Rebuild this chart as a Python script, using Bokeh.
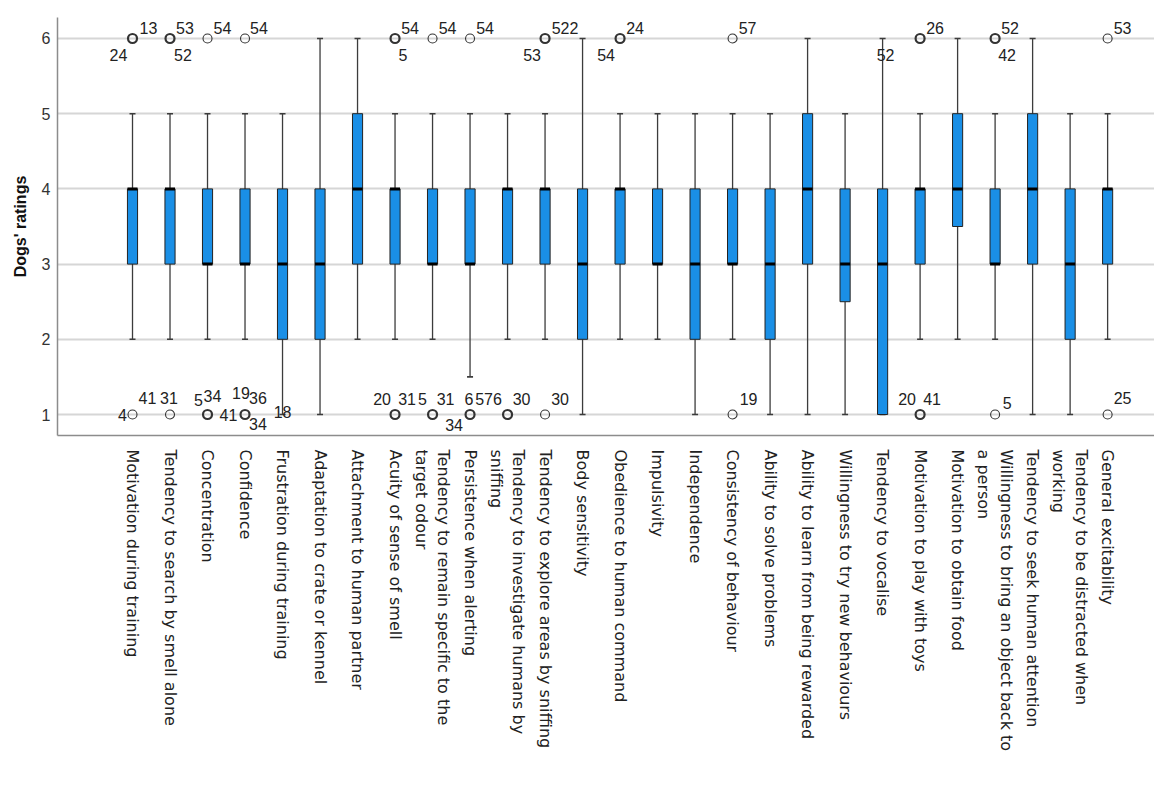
import math
from bokeh.plotting import figure
from bokeh.models import FixedTicker, ColumnDataSource, Range1d
from bokeh.embed import file_html
from bokeh.resources import INLINE
from bokeh.core.properties import value

categories = [
    "Motivation during training",
    "Tendency to search by smell alone",
    "Concentration",
    "Confidence",
    "Frustration during training",
    "Adaptation to crate or kennel",
    "Attachment to human partner",
    "Acuity of sense of smell",
    "Tendency to remain specific to the\ntarget odour",
    "Persistence when alerting",
    "Tendency to investigate humans by\nsniffing",
    "Tendency to explore areas by sniffing",
    "Body sensitivity",
    "Obedience to human command",
    "Impulsivity",
    "Independence",
    "Consistency of behaviour",
    "Ability to solve problems",
    "Ability to learn from being rewarded",
    "Willingness to try new behaviours",
    "Tendency to vocalise",
    "Motivation to play with toys",
    "Motivation to obtain food",
    "Willingness to bring an object back to\na person",
    "Tendency to seek human attention",
    "Tendency to be distracted when\nworking",
    "General excitability",
]
q1 = [3, 3, 3, 3, 2, 2, 3, 3, 3, 3, 3, 3, 2, 3, 3, 2, 3, 2, 3, 2.5, 1, 3, 3.5, 3, 3, 2, 3]
median = [4, 4, 3, 3, 3, 3, 4, 4, 3, 3, 4, 4, 3, 4, 3, 3, 3, 3, 4, 3, 3, 4, 4, 3, 4, 3, 4]
q3 = [4, 4, 4, 4, 4, 4, 5, 4, 4, 4, 4, 4, 4, 4, 4, 4, 4, 4, 5, 4, 4, 4, 5, 4, 5, 4, 4]
whisk_lo = [2, 2, 2, 2, 1, 1, 2, 2, 2, 1.5, 2, 2, 1, 2, 2, 1, 2, 1, 1, 1, 1, 2, 2, 2, 1, 1, 2]
whisk_hi = [5, 5, 5, 5, 5, 6, 6, 5, 5, 5, 5, 5, 6, 5, 5, 5, 5, 5, 6, 5, 6, 5, 6, 5, 6, 5, 5]

# outliers: category index, value, number of cases (overlapping)
out_cat = [0, 1, 2, 3, 7, 8, 9, 11, 13, 16, 21, 23, 26,
           0, 1, 2, 3, 7, 8, 9, 10, 11, 16, 21, 23, 26]
out_val = [6] * 13 + [1] * 13
out_n = [2, 2, 1, 1, 2, 1, 1, 2, 2, 1, 2, 2, 1,
         1, 1, 2, 2, 2, 2, 2, 2, 1, 1, 2, 1, 1]

# outlier case labels
lab_cat = [0, 0, 1, 1, 2, 3, 7, 7, 8, 9, 11, 11, 13, 13, 16, 20, 21, 23, 23, 26,
           0, 0, 1, 2, 2, 2, 3, 3, 3, 4, 7, 7, 8, 8, 9, 9, 9, 10, 10, 11, 16, 21, 21, 23, 26]
lab_val = [6] * 20 + [1] * 25
lab_text = ["13", "24", "53", "52", "54", "54", "54", "5", "54", "54", "522", "53", "24", "54",
            "57", "52", "26", "52", "42", "53",
            "4", "41", "31", "5", "34", "41", "19", "36", "34", "18", "20", "31", "5", "31",
            "6", "57", "34", "6", "30", "30", "19", "20", "41", "5", "25"]
# label offsets in screen pixels (style)
lab_dx = [16, -14, 15, 13, 15, 14, 15, 8, 15, 15, 20, -13, 15, -14, 15, 3, 15, 15, 12, 15,
          -10, 15, -1, -9, 5, 21, -4, 13, 13, 0, -13, 12, -10, 13, -1, 14, -16, -10, 14, 15,
          16, -13, 12, 12, 15]
lab_dy = [-10, 17, -10, 17, -10, -10, -10, 17, -10, -10, -10, 17, -10, 17, -10, 17, -10, -10, 17, -10,
          0, -17, -17, -15, -19, 0, -22, -17, 9, -3, -16, -16, -16, -16, -16, -16, 10, -16, -16, -16,
          -16, -16, -16, -12, -17]

xs = list(range(len(categories)))

p = figure(width=1154, height=774, output_backend="svg", toolbar_location=None,
           x_range=Range1d(-2, 27.25), y_range=Range1d(0.721, 6.279),
           min_border_left=57, min_border_right=0, min_border_top=17, min_border_bottom=339)
p.outline_line_color = None
p.background_fill_color = "white"

# grid
p.xgrid.visible = False
p.ygrid.grid_line_color = "#d6d6d6"
p.ygrid.grid_line_width = 2

whisk_col = "#3c3c3c"
p.segment(x0=xs, y0=q3, x1=xs, y1=whisk_hi, line_color=whisk_col, line_width=1.3)
p.segment(x0=xs, y0=q1, x1=xs, y1=whisk_lo, line_color=whisk_col, line_width=1.3)
p.scatter(x=xs, y=whisk_hi, marker="dash", size=6, line_color=whisk_col, line_width=1.6)
p.scatter(x=xs, y=whisk_lo, marker="dash", size=6, line_color=whisk_col, line_width=1.6)

p.vbar(x=xs, width=0.27, bottom=q1, top=q3, fill_color="#1a8fe6",
       line_color="#222222", line_width=1)
p.scatter(x=xs, y=median, marker="dash", size=10, line_color="black", line_width=3)

osrc = ColumnDataSource(dict(x=out_cat, y=out_val,
                             lw=[2.2 if k > 1 else 1.1 for k in out_n]))
p.scatter(x="x", y="y", source=osrc, marker="circle", size=9, fill_color=None,
          line_color="#333333", line_width="lw")

lsrc = ColumnDataSource(dict(x=lab_cat, y=lab_val, t=lab_text, dx=lab_dx, dy=lab_dy))
p.text(x="x", y="y", text="t", source=lsrc, x_offset="dx", y_offset="dy",
       text_align="center", text_baseline="middle",
       text_font=value("Liberation Sans"), text_font_size="16px", text_color="#222222")

# y axis
ya = p.yaxis[0]
ya.ticker = FixedTicker(ticks=[1, 2, 3, 4, 5, 6])
ya.axis_label = "Dogs' ratings"
ya.axis_label_text_font = "Liberation Sans"
ya.axis_label_text_font_style = "bold"
ya.axis_label_text_font_size = "16px"
ya.axis_label_text_color = "#111111"
ya.axis_label_standoff = 10
ya.major_label_text_font = "Liberation Sans"
ya.major_label_text_font_size = "16px"
ya.major_label_text_color = "#333333"
ya.major_label_standoff = 7
ya.major_tick_out = 0
ya.major_tick_in = 0
ya.minor_tick_out = 0
ya.minor_tick_in = 0
ya.axis_line_color = "#8c8c8c"
ya.axis_line_width = 1.5

# x axis
xa = p.xaxis[0]
xa.ticker = FixedTicker(ticks=xs)
xa.major_label_overrides = {i: c for i, c in zip(xs, categories)}
xa.major_label_orientation = -math.pi / 2
xa.major_label_text_font = "DejaVu Sans"
xa.major_label_text_font_size = "16px"
xa.major_label_text_color = "#222222"
xa.major_label_standoff = 14
xa.major_tick_out = 0
xa.major_tick_in = 0
xa.minor_tick_out = 0
xa.minor_tick_in = 0
xa.axis_line_color = "#8c8c8c"
xa.axis_line_width = 1.5

open("out.html", "w").write(file_html(p, INLINE))
